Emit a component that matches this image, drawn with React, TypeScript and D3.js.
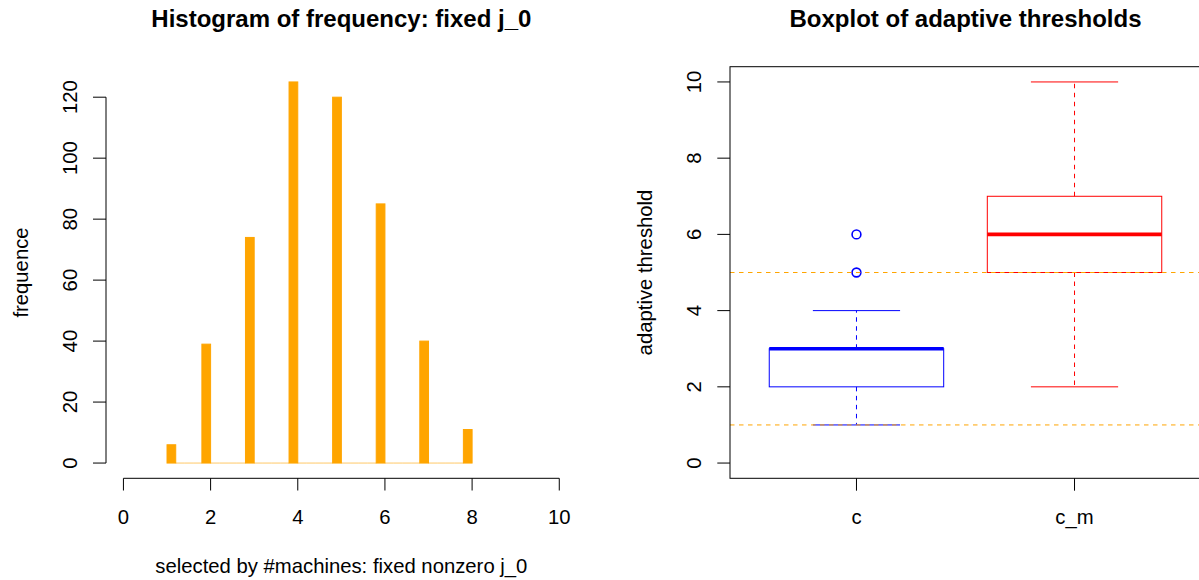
import React from "react";
import * as d3 from "d3";

// ---------- data ----------
const machines = [1, 2, 3, 4, 5, 6, 7, 8];
const frequency = [6, 39, 74, 125, 120, 85, 40, 11];
const binWidth = 0.2;
const histRange = [1, 8];
const histXTicks = [0, 2, 4, 6, 8, 10];
const histYTicks = [0, 20, 40, 60, 80, 100, 120];

const boxGroups = ["c", "c_m"];
const boxColors = ["#0000FF", "#FF0000"];
const whiskerLow = [1, 2];
const quartile1 = [2, 5];
const medians = [3, 6];
const quartile3 = [3, 7];
const whiskerHigh = [4, 10];
const outliers = [[5, 6], []];
const thresholdLines = [1, 5];
const boxYTicks = [0, 2, 4, 6, 8, 10];

const W = 1199;
const H = 580;
const FONT = "'Liberation Sans', Arial, Helvetica, sans-serif";
const FS = 20.3;
const TOP = 66.7;
const BOTTOM = 478.3;

export default function App() {
  // ---------- left: histogram ----------
  const hx = d3.scaleLinear().domain([-0.4, 10.4]).range([106, 576.7]);
  const hy = d3.scaleLinear().domain([-5, 130]).range([BOTTOM, TOP]);
  const nBins = Math.round((histRange[1] - histRange[0]) / binWidth);
  const bins = d3.range(nBins).map((i) => {
    const b0 = histRange[0] + i * binWidth;
    const b1 = histRange[0] + (i + 1) * binWidth;
    let count = 0;
    machines.forEach((m, j) => {
      const inBin = (m > b0 + 1e-9 && m <= b1 + 1e-9) || (i === 0 && Math.abs(m - b0) < 1e-9);
      if (inBin) count += frequency[j];
    });
    return { b0, b1, count };
  });
  const histCx = (hx.range()[0] + hx.range()[1]) / 2;

  // ---------- right: boxplot ----------
  const bx = d3.scaleLinear().domain([0.42, 2.58]).range([730, 1201]);
  const by = d3.scaleLinear().domain([-0.4, 10.4]).range([BOTTOM, TOP]);
  const boxHalf = 0.4;
  const capHalf = 0.2;
  const boxCx = (730 + 1201) / 2;
  const dash = "4.5,4.5";

  return (
    <svg
      width={W}
      height={H}
      viewBox={`0 0 ${W} ${H}`}
      style={{ position: "absolute", left: 0, top: 0, background: "#fff" }}
      fontFamily={FONT}
    >
      <rect x={0} y={0} width={W} height={H} fill="#fff" />

      {/* ===== Histogram ===== */}
      <text x={histCx} y={27} textAnchor="middle" fontSize={24} fontWeight="bold">
        Histogram of frequency: fixed j_0
      </text>
      {bins.map((b, i) =>
        b.count > 0 ? (
          <rect
            key={i}
            x={hx(b.b0)}
            y={hy(b.count)}
            width={hx(b.b1) - hx(b.b0)}
            height={hy(0) - hy(b.count)}
            fill="#FFA500"
            stroke="#FFA500"
            strokeWidth={1}
          />
        ) : (
          <line
            key={i}
            x1={hx(b.b0)}
            x2={hx(b.b1)}
            y1={hy(0)}
            y2={hy(0)}
            stroke="#FFA500"
            strokeOpacity={0.6}
            strokeWidth={1}
          />
        )
      )}
      {/* y axis */}
      <line x1={106} x2={106} y1={hy(histYTicks[0])} y2={hy(histYTicks[histYTicks.length - 1])} stroke="#000" />
      {histYTicks.map((t) => (
        <g key={t}>
          <line x1={93} x2={106} y1={hy(t)} y2={hy(t)} stroke="#000" />
          <text
            transform={`translate(76.5,${hy(t)}) rotate(-90)`}
            textAnchor="middle"
            fontSize={FS}
          >
            {t}
          </text>
        </g>
      ))}
      {/* x axis */}
      <line x1={hx(histXTicks[0])} x2={hx(histXTicks[histXTicks.length - 1])} y1={BOTTOM} y2={BOTTOM} stroke="#000" />
      {histXTicks.map((t) => (
        <g key={t}>
          <line x1={hx(t)} x2={hx(t)} y1={BOTTOM} y2={490.5} stroke="#000" />
          <text x={hx(t)} y={523.5} textAnchor="middle" fontSize={FS}>
            {t}
          </text>
        </g>
      ))}
      <text x={histCx} y={573} textAnchor="middle" fontSize={FS}>
        selected by #machines: fixed nonzero j_0
      </text>
      <text
        transform={`translate(27.5,${(TOP + BOTTOM) / 2}) rotate(-90)`}
        textAnchor="middle"
        fontSize={FS}
      >
        frequence
      </text>

      {/* ===== Boxplot ===== */}
      <text x={boxCx} y={27} textAnchor="middle" fontSize={24} fontWeight="bold">
        Boxplot of adaptive thresholds
      </text>
      {boxGroups.map((g, i) => {
        const c = i + 1;
        const col = boxColors[i];
        return (
          <g key={g}>
            {/* whiskers */}
            <line x1={bx(c)} x2={bx(c)} y1={by(quartile3[i])} y2={by(whiskerHigh[i])} stroke={col} strokeDasharray={dash} />
            <line x1={bx(c)} x2={bx(c)} y1={by(quartile1[i])} y2={by(whiskerLow[i])} stroke={col} strokeDasharray={dash} />
            <line x1={bx(c - capHalf)} x2={bx(c + capHalf)} y1={by(whiskerHigh[i])} y2={by(whiskerHigh[i])} stroke={col} />
            <line x1={bx(c - capHalf)} x2={bx(c + capHalf)} y1={by(whiskerLow[i])} y2={by(whiskerLow[i])} stroke={col} />
            {/* box */}
            <rect
              x={bx(c - boxHalf)}
              y={by(quartile3[i])}
              width={bx(c + boxHalf) - bx(c - boxHalf)}
              height={by(quartile1[i]) - by(quartile3[i])}
              fill="none"
              stroke={col}
            />
            <line x1={bx(c - boxHalf)} x2={bx(c + boxHalf)} y1={by(medians[i])} y2={by(medians[i])} stroke={col} strokeWidth={3.6} />
            {outliers[i].map((o, k) => (
              <circle key={k} cx={bx(c)} cy={by(o)} r={4.4} fill="none" stroke={col} strokeWidth={1.6} />
            ))}
          </g>
        );
      })}
      {thresholdLines.map((t) => (
        <line key={t} x1={730} x2={1201} y1={by(t)} y2={by(t)} stroke="#FFA500" strokeDasharray={dash} />
      ))}
      {/* frame */}
      <rect x={730} y={TOP} width={1201 - 730} height={BOTTOM - TOP} fill="none" stroke="#000" />
      {/* y axis ticks */}
      {boxYTicks.map((t) => (
        <g key={t}>
          <line x1={717.3} x2={730} y1={by(t)} y2={by(t)} stroke="#000" />
          <text
            transform={`translate(700.5,${by(t)}) rotate(-90)`}
            textAnchor="middle"
            fontSize={FS}
          >
            {t}
          </text>
        </g>
      ))}
      {/* x axis ticks */}
      {boxGroups.map((g, i) => (
        <g key={g}>
          <line x1={bx(i + 1)} x2={bx(i + 1)} y1={BOTTOM} y2={490.7} stroke="#000" />
          <text x={bx(i + 1)} y={523.5} textAnchor="middle" fontSize={FS}>
            {g}
          </text>
        </g>
      ))}
      <text
        transform={`translate(651.5,${(TOP + BOTTOM) / 2}) rotate(-90)`}
        textAnchor="middle"
        fontSize={FS}
      >
        adaptive threshold
      </text>
    </svg>
  );
}
